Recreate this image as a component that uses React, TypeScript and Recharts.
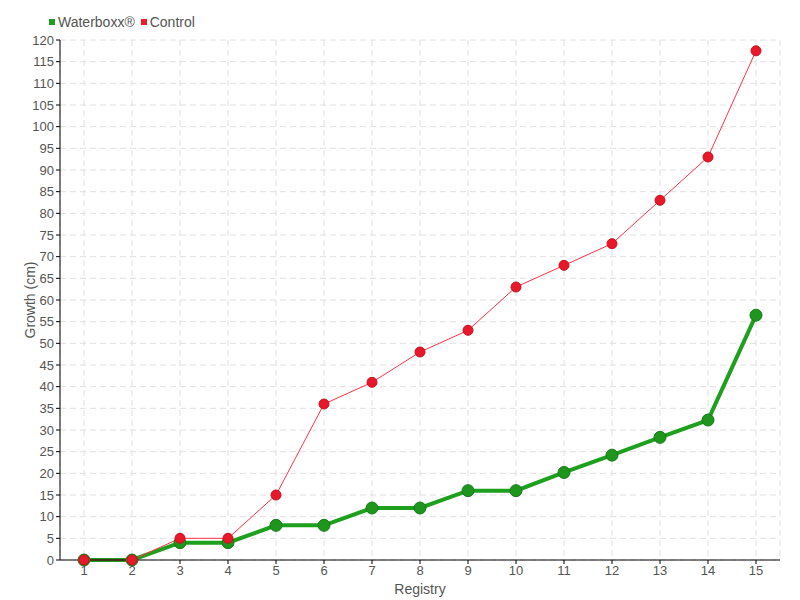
import React from 'react';
import {
  LineChart,
  Line,
  XAxis,
  YAxis,
  CartesianGrid,
} from 'recharts';

const registry = ['1', '2', '3', '4', '5', '6', '7', '8', '9', '10', '11', '12', '13', '14', '15'];
const waterboxx = [0, 0, 4, 4, 8, 8, 12, 12, 16, 16, 20.2, 24.2, 28.3, 32.3, 56.5];
const control = [0, 0, 5, 5, 15, 36, 41, 48, 53, 63, 68, 73, 83, 93, 117.5];
const yTicks = Array.from({ length: 25 }, (_, i) => i * 5);

const chartData = registry.map((r, i) => ({
  registry: r,
  'Waterboxx®': waterboxx[i],
  Control: control[i],
}));

const FONT = '"Liberation Sans", sans-serif';
const TEXT = '#555';

function LegendBox() {
  const items = [
    { name: 'Waterboxx®', color: '#1ea01e' },
    { name: 'Control', color: '#ee1c2c' },
  ];
  return (
    <div
      style={{
        position: 'absolute',
        top: 13,
        left: 49,
        display: 'flex',
        fontFamily: FONT,
        fontSize: 14,
        color: TEXT,
        lineHeight: '18px',
      }}
    >
      {items.map((it) => (
        <div key={it.name} style={{ display: 'flex', alignItems: 'center', marginRight: 6 }}>
          <span
            style={{ width: 6, height: 6, background: it.color, display: 'inline-block', marginRight: 3 }}
          />
          {it.name}
        </div>
      ))}
    </div>
  );
}

export default function App() {
  return (
    <div style={{ position: 'absolute', left: 0, top: 0, width: 800, height: 600, background: '#fff' }}>
      <LineChart
        width={800}
        height={600}
        data={chartData}
        margin={{ top: 40, right: 20, left: 0, bottom: 0 }}
      >
        <CartesianGrid strokeDasharray="6 4" stroke="#e0e0e0" />
        <XAxis
          dataKey="registry"
          height={40}
          padding={{ left: 24, right: 24 }}
          stroke="#000"
          tickSize={4}
          tick={{ fill: TEXT, fontSize: 13, fontFamily: FONT }}
          label={{ value: 'Registry', position: 'insideBottom', offset: 6, fill: TEXT, fontSize: 14, fontFamily: FONT }}
        />
        <YAxis
          width={60}
          domain={[0, 120]}
          ticks={yTicks}
          interval={0}
          stroke="#000"
          tickSize={4}
          tick={{ fill: TEXT, fontSize: 13, fontFamily: FONT }}
          label={{
            value: 'Growth (cm)',
            angle: -90,
            position: 'insideLeft',
            offset: 30,
            fill: TEXT,
            fontSize: 14,
            fontFamily: FONT,
            style: { textAnchor: 'middle' },
          }}
        />
        <Line
          dataKey="Waterboxx®"
          type="linear"
          stroke="#1ea01e"
          strokeWidth={4}
          dot={{ r: 6, fill: '#1e961e', stroke: '#187a18', strokeWidth: 1 }}
          isAnimationActive={false}
        />
        <Line
          dataKey="Control"
          type="linear"
          stroke="#ff3344"
          strokeWidth={1}
          dot={{ r: 5, fill: '#e8182a', stroke: '#c8101e', strokeWidth: 1 }}
          isAnimationActive={false}
        />
      </LineChart>
      <LegendBox />
    </div>
  );
}
